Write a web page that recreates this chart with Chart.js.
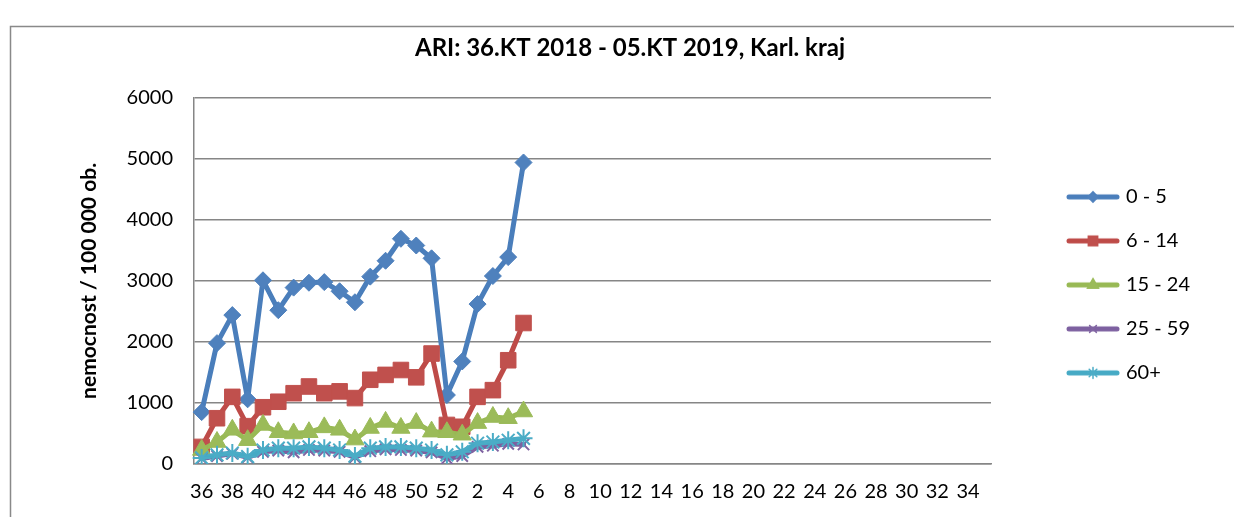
<!DOCTYPE html>
<html>
<head>
<meta charset="utf-8">
<script src="https://cdn.jsdelivr.net/npm/chart.js@4.4.1/dist/chart.umd.min.js"></script>
<style>
  html, body { margin: 0; padding: 0; background: #ffffff; }
  #wrap { width: 1240px; height: 517px; position: relative; }
</style>
</head>
<body>
<div id="wrap"><canvas id="c" width="1240" height="517"></canvas></div>
<script>
// ---- data ----
const weeks = [36,37,38,39,40,41,42,43,44,45,46,47,48,49,50,51,52,1,2,3,4,5,6,7,8,9,10,11,12,13,14,15,16,17,18,19,20,21,22,23,24,25,26,27,28,29,30,31,32,33,34,35];
const seriesNames = ['0 - 5', '6 - 14', '15 - 24', '25 - 59', '60+'];
const age0_5   = [850,1980,2440,1060,3010,2520,2890,2970,2980,2830,2650,3070,3330,3690,3580,3370,1130,1680,2620,3080,3390,4940];
const age6_14  = [280,750,1100,620,930,1020,1160,1270,1160,1190,1080,1380,1460,1540,1420,1810,640,610,1100,1210,1700,2310];
const age15_24 = [230,360,560,390,640,520,500,520,600,560,400,590,690,590,670,530,520,480,670,770,750,860];
const age25_59 = [90,130,170,110,200,220,190,230,220,200,110,210,240,230,220,190,90,130,280,300,330,320];
const age60p   = [100,150,180,120,230,260,260,280,260,230,130,260,280,280,260,230,150,200,340,360,390,420];
const yTicks = [0,1000,2000,3000,4000,5000,6000];

// ---- styles ----
const lineColors   = ['#4A7EBB','#BE4B48','#98B954','#7D60A0','#46AAC5'];
const markerColors = ['#4F81BD','#C0504D','#9BBB59','#8064A2','#4BACC6'];
const markerStyles = ['rectRot','rect','triangle','crossRot','star'];
const markerRadius = [8.5, 11, 10.5, 8, 9];
const FONT = 'Lato, "Open Sans", sans-serif';

const allData = [age0_5, age6_14, age15_24, age25_59, age60p];

function makeLegendImage(i) {
  const cv = document.createElement('canvas');
  cv.width = 54; cv.height = 18;
  const ctx = cv.getContext('2d');
  ctx.strokeStyle = lineColors[i];
  ctx.lineWidth = 5;
  ctx.lineCap = 'round';
  ctx.beginPath(); ctx.moveTo(3, 9); ctx.lineTo(51, 9); ctx.stroke();
  ctx.fillStyle = markerColors[i];
  ctx.strokeStyle = markerColors[i];
  ctx.lineWidth = 1.5;
  Chart.helpers.drawPoint(ctx, {pointStyle: markerStyles[i], radius: markerRadius[i] * 0.6, rotation: 0, borderWidth: 1.5}, 27, 9);
  return cv;
}
const legendImages = seriesNames.map((_, i) => makeLegendImage(i));

const datasets = seriesNames.map((name, i) => ({
  label: name,
  data: allData[i],
  borderColor: lineColors[i],
  backgroundColor: markerColors[i],
  borderWidth: 5,
  borderJoinStyle: 'round',
  borderCapStyle: 'round',
  pointStyle: markerStyles[i],
  pointRadius: markerRadius[i],
  pointBorderWidth: (markerStyles[i] === 'crossRot' || markerStyles[i] === 'star') ? 2 : 1,
  pointBorderColor: markerColors[i],
  pointBackgroundColor: markerColors[i],
  tension: 0,
  fill: false,
  order: seriesNames.length - i
}));

const framePlugin = {
  id: 'frame',
  beforeDraw(chart) {
    const ctx = chart.ctx;
    ctx.save();
    ctx.fillStyle = '#ffffff';
    ctx.fillRect(0, 0, chart.width, chart.height);
    ctx.strokeStyle = '#898989';
    ctx.lineWidth = 1.5;
    ctx.beginPath();
    ctx.moveTo(10.5, 520);
    ctx.lineTo(10.5, 26.5);
    ctx.lineTo(1234, 26.5);
    ctx.stroke();
    ctx.restore();
  }
};

const legendPlace = {
  id: 'legendPlace',
  beforeLayout(chart) {
    const lg = chart.legend;
    if (lg && !lg._fixedFit) {
      const orig = lg.fit;
      lg.fit = function() { orig.call(this); if (this.options.display) this.width = 249; };
      lg._fixedFit = true;
    }
  },
  afterLayout(chart) {
    const lg = chart.legend;
    if (!lg) return;
    const dx = 1070 - (lg.left + lg.options.labels.padding);
    lg.left += dx; lg.right += dx;
    lg.top += 4; lg.bottom += 4;
  }
};

new Chart(document.getElementById('c'), {
  type: 'line',
  data: { labels: weeks, datasets: datasets },
  plugins: [framePlugin, legendPlace],
  options: {
    responsive: false,
    animation: false,
    devicePixelRatio: 1,
    layout: { padding: { left: 20, right: 0, top: 0, bottom: 0 } },
    plugins: {
      title: {
        display: true,
        text: 'ARI: 36.KT 2018 - 05.KT 2019, Karl. kraj',
        color: '#000000',
        font: { family: FONT, size: 24, weight: 'bold', lineHeight: 1.2 },
        padding: { top: 34, bottom: 35 }
      },
      legend: {
        display: true,
        position: 'right',
        fullSize: false,
        align: 'center',
        labels: {
          usePointStyle: true,
          pointStyleWidth: 46,
          padding: 24,
          color: '#000000',
          font: { family: FONT, size: 20 },
          sort: (a, b) => a.datasetIndex - b.datasetIndex,
          generateLabels(chart) {
            const items = Chart.defaults.plugins.legend.labels.generateLabels(chart);
            items.forEach(it => { it.pointStyle = legendImages[it.datasetIndex]; });
            return items;
          }
        }
      },
      tooltip: { enabled: false }
    },
    scales: {
      x: {
        type: 'category',
        offset: true,
        grid: { display: false, drawTicks: false },
        border: { display: true, color: '#868686', width: 1.5 },
        ticks: {
          autoSkip: false,
          maxRotation: 0,
          minRotation: 0,
          padding: 16,
          color: '#000000',
          font: { family: FONT, size: 20 },
          callback: function(value, index) { return index % 2 === 0 ? String(weeks[index]) : ''; }
        },
        afterFit(scale) { scale.height = 53; }
      },
      y: {
        min: 0,
        max: 6000,
        afterBuildTicks(scale) { scale.ticks = yTicks.map(v => ({ value: v })); },
        grid: { color: '#868686', lineWidth: 1.5, drawTicks: false },
        border: { display: true, color: '#868686', width: 1.5 },
        ticks: {
          padding: 21,
          color: '#000000',
          font: { family: FONT, size: 20 },
          callback: (v) => String(v)
        },
        title: {
          display: true,
          text: 'nemocnost / 100 000 ob.',
          color: '#000000',
          font: { family: FONT, size: 21, weight: 'bold', lineHeight: 1.2 },
          padding: { top: 57, bottom: 0 }
        },
        afterFit(scale) { scale.width = 174; }
      }
    }
  }
});
</script>
</body>
</html>
